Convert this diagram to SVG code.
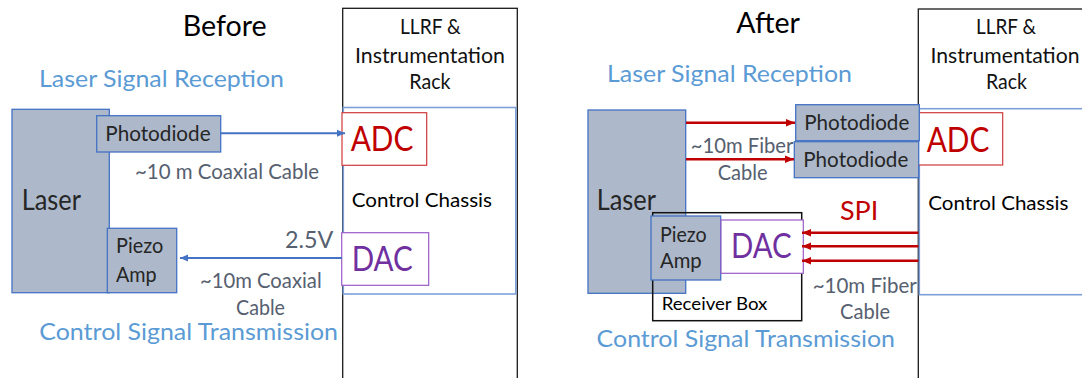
<svg xmlns="http://www.w3.org/2000/svg" width="1082" height="378" viewBox="0 0 1082 378">
  <defs>
    <marker id="headBlue" markerUnits="userSpaceOnUse" markerWidth="9" markerHeight="8" refX="8" refY="4" orient="auto">
      <path d="M0,0.5 L8,4 L0,7.5 z" fill="#4472C4"/>
    </marker>
    <marker id="headRed" markerUnits="userSpaceOnUse" markerWidth="10" markerHeight="9" refX="9" refY="4.5" orient="auto">
      <path d="M0,0.8 L9,4.5 L0,8.2 z" fill="#C00000"/>
    </marker>
  </defs>
  <style>
    text { font-family: Lato, "Liberation Sans", sans-serif; }
    .title { font-size: 28px; fill: #000; }
    .section { font-size: 23.5px; fill: #5B9BD5; }
    .rack { fill: none; stroke: #1a1a1a; stroke-width: 1.3; }
    .rackLabel { font-size: 20.5px; fill: #111; }
    .chassis { fill: none; stroke: #7EA0D8; stroke-width: 1.6; }
    .chassisLabel { font-size: 20px; fill: #000; }
    .adcBox { fill: #fff; stroke: #D03A3A; stroke-width: 1.2; }
    .adc { font-size: 34px; fill: #C00000; }
    .dacBox { fill: #fff; stroke: #9A5CC6; stroke-width: 1.2; }
    .dac { font-size: 34px; fill: #7030A0; }
    .device { fill: #ADB9CA; stroke: #4472C4; stroke-width: 1.3; }
    .deviceLabel { font-size: 20.5px; fill: #262626; }
    .laserLabel { font-size: 28px; fill: #262626; }
    .cable { font-size: 20.5px; fill: #56606F; }
    .volt { font-size: 22.5px; fill: #56606F; }
    .box { fill: none; stroke: #111; stroke-width: 1.5; }
    .boxLabel { font-size: 17.5px; fill: #000; }
    .spi { font-size: 26.5px; fill: #C00000; }
    .wireBlue { stroke: #4472C4; stroke-width: 2; fill: none; }
    .wireRed { stroke: #C00000; stroke-width: 2.6; fill: none; }
  </style>

  <rect width="1082" height="378" fill="#fff"/>

  <!-- ===== Before ===== -->
  <g id="before-labels">
    <text class="title" x="182.7" y="36" textLength="84" lengthAdjust="spacingAndGlyphs">Before</text>
    <text class="section" x="39" y="87.3" textLength="245" lengthAdjust="spacingAndGlyphs">Laser Signal Reception</text>
    <text class="section" x="39.3" y="340" textLength="298.7" lengthAdjust="spacingAndGlyphs">Control Signal Transmission</text>
    <text class="cable" x="135" y="179.3" textLength="184" lengthAdjust="spacingAndGlyphs">~10 m Coaxial Cable</text>
    <text class="volt" x="285" y="248.3" textLength="48.3" lengthAdjust="spacingAndGlyphs">2.5V</text>
    <text class="cable" x="200" y="288.3" textLength="121.7" lengthAdjust="spacingAndGlyphs">~10m Coaxial</text>
    <text class="cable" x="236" y="315" textLength="49" lengthAdjust="spacingAndGlyphs">Cable</text>
  </g>

  <g id="before-rack">
    <rect class="rack" x="342.7" y="8.3" width="174.6" height="400"/>
    <text class="rackLabel" x="400" y="34.3" textLength="60.7" lengthAdjust="spacingAndGlyphs">LLRF &amp;</text>
    <text class="rackLabel" x="355" y="62.7" textLength="150" lengthAdjust="spacingAndGlyphs">Instrumentation</text>
    <text class="rackLabel" x="409.3" y="89.3" textLength="41.3" lengthAdjust="spacingAndGlyphs">Rack</text>
  </g>

  <g id="before-chassis">
    <rect class="chassis" x="343.3" y="107.5" width="172.5" height="186.5"/>
    <text class="chassisLabel" x="351.7" y="207.3" textLength="140.3" lengthAdjust="spacingAndGlyphs">Control Chassis</text>
  </g>

  <g id="before-adc">
    <rect class="adcBox" x="342" y="112.7" width="84.7" height="52.6"/>
    <text class="adc" x="350.7" y="150.7" textLength="62.7" lengthAdjust="spacingAndGlyphs">ADC</text>
  </g>

  <g id="before-dac">
    <rect class="dacBox" x="341.7" y="232.7" width="87" height="52.6"/>
    <text class="dac" x="351.7" y="270.7" textLength="61" lengthAdjust="spacingAndGlyphs">DAC</text>
  </g>

  <g id="before-laser">
    <rect class="device" x="12" y="109.3" width="97.3" height="183.4"/>
    <text class="laserLabel" x="21.7" y="210" textLength="59.3" lengthAdjust="spacingAndGlyphs">Laser</text>
  </g>

  <g id="before-photodiode">
    <rect class="device" x="96.7" y="115.7" width="124" height="36.3"/>
    <text class="deviceLabel" x="105.3" y="140.7" textLength="105.3" lengthAdjust="spacingAndGlyphs">Photodiode</text>
  </g>

  <g id="before-piezo">
    <rect class="device" x="107.3" y="228.3" width="69.4" height="64.4"/>
    <text class="deviceLabel" x="116" y="253.3" textLength="47.3" lengthAdjust="spacingAndGlyphs">Piezo</text>
    <text class="deviceLabel" x="116" y="281.7" textLength="40.7" lengthAdjust="spacingAndGlyphs">Amp</text>
  </g>

  <g id="before-connectors">
    <line class="wireBlue" x1="220.7" y1="133.3" x2="345" y2="133.3" marker-end="url(#headBlue)"/>
    <line class="wireBlue" x1="342" y1="258" x2="180" y2="258" marker-end="url(#headBlue)"/>
  </g>

  <!-- ===== After ===== -->
  <g id="after-labels">
    <text class="title" x="736.3" y="33" textLength="63.7" lengthAdjust="spacingAndGlyphs">After</text>
    <text class="section" x="607" y="82" textLength="245" lengthAdjust="spacingAndGlyphs">Laser Signal Reception</text>
    <text class="section" x="596.6" y="346.7" textLength="298.4" lengthAdjust="spacingAndGlyphs">Control Signal Transmission</text>
    <text class="cable" x="690.7" y="152.7" textLength="102.7" lengthAdjust="spacingAndGlyphs">~10m Fiber</text>
    <text class="cable" x="717.7" y="179.5" textLength="50" lengthAdjust="spacingAndGlyphs">Cable</text>
    <text class="spi" x="840" y="220" textLength="38.3" lengthAdjust="spacingAndGlyphs">SPI</text>
    <text class="cable" x="812.7" y="292.7" textLength="104" lengthAdjust="spacingAndGlyphs">~10m Fiber</text>
    <text class="cable" x="840" y="319.3" textLength="50" lengthAdjust="spacingAndGlyphs">Cable</text>
  </g>

  <g id="after-rack">
    <rect class="rack" x="918.3" y="9" width="175" height="400"/>
    <text class="rackLabel" x="976" y="34.3" textLength="60" lengthAdjust="spacingAndGlyphs">LLRF &amp;</text>
    <text class="rackLabel" x="930.5" y="62.7" textLength="149" lengthAdjust="spacingAndGlyphs">Instrumentation</text>
    <text class="rackLabel" x="986" y="89.3" textLength="41" lengthAdjust="spacingAndGlyphs">Rack</text>
  </g>

  <g id="after-chassis">
    <rect class="chassis" x="919.3" y="108.7" width="172" height="186"/>
    <text class="chassisLabel" x="928.3" y="210" textLength="140" lengthAdjust="spacingAndGlyphs">Control Chassis</text>
  </g>

  <g id="after-adc">
    <rect class="adcBox" x="918" y="112.7" width="84.7" height="52.3"/>
    <text class="adc" x="926.7" y="151.7" textLength="62.7" lengthAdjust="spacingAndGlyphs">ADC</text>
  </g>

  <g id="after-photodiode-1">
    <rect class="device" x="795.7" y="104.7" width="123.6" height="36"/>
    <text class="deviceLabel" x="804.3" y="130" textLength="105" lengthAdjust="spacingAndGlyphs">Photodiode</text>
  </g>

  <g id="after-photodiode-2">
    <rect class="device" x="794.3" y="141.7" width="124.4" height="36"/>
    <text class="deviceLabel" x="803.3" y="166.7" textLength="105" lengthAdjust="spacingAndGlyphs">Photodiode</text>
  </g>

  <g id="after-laser">
    <rect class="device" x="588" y="110" width="97.7" height="183.3"/>
    <text class="laserLabel" x="596.7" y="210" textLength="59.3" lengthAdjust="spacingAndGlyphs">Laser</text>
  </g>

  <g id="after-receiver-box">
    <rect class="box" x="652.7" y="212.7" width="149" height="108"/>
    <text class="boxLabel" x="661.7" y="310" textLength="105.7" lengthAdjust="spacingAndGlyphs">Receiver Box</text>
  </g>

  <g id="after-piezo">
    <rect class="device" x="651" y="216" width="69.7" height="64"/>
    <text class="deviceLabel" x="660" y="241.7" textLength="46.7" lengthAdjust="spacingAndGlyphs">Piezo</text>
    <text class="deviceLabel" x="660" y="268.3" textLength="41.7" lengthAdjust="spacingAndGlyphs">Amp</text>
  </g>

  <g id="after-dac">
    <rect class="dacBox" x="721" y="220" width="82.3" height="53.3"/>
    <text class="dac" x="731" y="258.3" textLength="60.7" lengthAdjust="spacingAndGlyphs">DAC</text>
  </g>

  <g id="after-connectors">
    <line class="wireRed" x1="686" y1="122.7" x2="795" y2="122.7" marker-end="url(#headRed)"/>
    <line class="wireRed" x1="686" y1="159.3" x2="794" y2="159.3" marker-end="url(#headRed)"/>
    <line class="wireRed" x1="918.3" y1="232.7" x2="802" y2="232.7" marker-end="url(#headRed)"/>
    <line class="wireRed" x1="918.3" y1="246.3" x2="802" y2="246.3" marker-end="url(#headRed)"/>
    <line class="wireRed" x1="918.3" y1="260.7" x2="802" y2="260.7" marker-end="url(#headRed)"/>
  </g>
</svg>
